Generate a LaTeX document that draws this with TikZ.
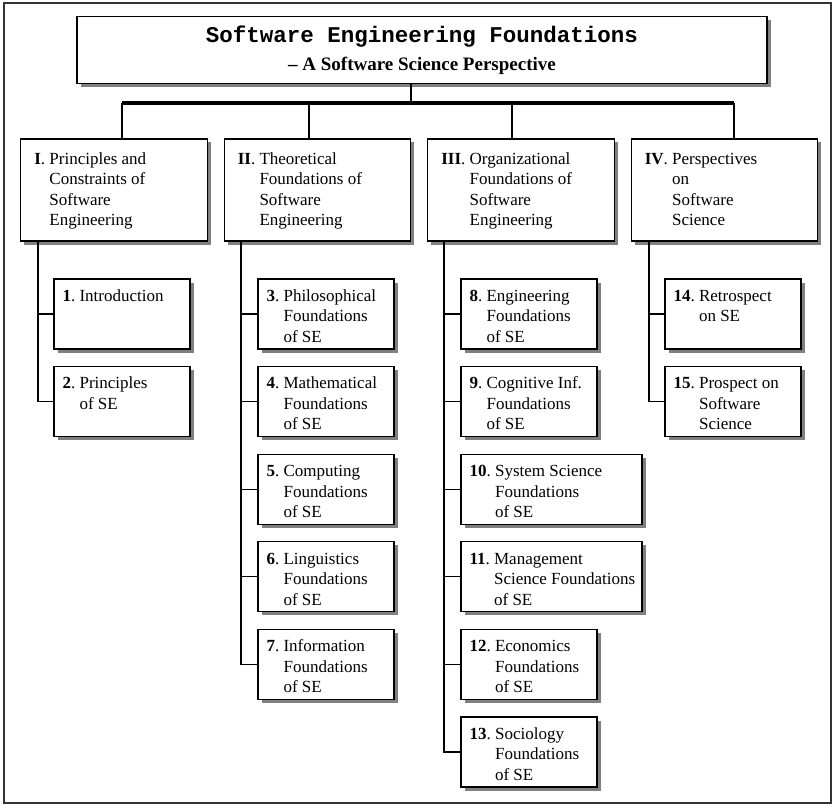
\documentclass[tikz,border=0pt]{standalone}
\usepackage{fontspec}
\setmainfont{Liberation Serif}
\newfontfamily\titlefont{Liberation Mono}
\usetikzlibrary{shadows}

% number in bold, then the lines of the title hanging after it
\newcommand{\entry}[2]{\textbf{#1}.\ \begin{tabular}[t]{@{}l@{}}#2\end{tabular}}

\tikzset{
  box/.style={draw, line width=1.3pt, fill=white, rectangle, inner sep=0pt,
    drop shadow={shadow xshift=3.5pt, shadow yshift=-3.5pt, fill=black!50, opacity=1}},
  partbox/.style={box, minimum width=186.5pt, minimum height=102pt},
  chapbox/.style={box, minimum width=136pt, minimum height=70pt},
  boxtext/.style={anchor=base west, inner sep=0pt, font=\fontsize{17}{20.5}\selectfont},
  link/.style={line width=1.1pt},
}

\begin{document}
\begin{tikzpicture}[x=1pt, y=-1pt]
  \useasboundingbox (0,0) rectangle (835,805);
  %cornice
  \draw[line width=2pt, black!80] (3.5,3.5) rectangle (831,803);

  %titolo
  \node[box, minimum width=690pt, minimum height=66.5pt, align=center, font=\fontsize{19}{28}\selectfont] (title) at (422,50)
    {{\titlefont\bfseries\fontsize{22.5}{26}\selectfont Software Engineering Foundations}\\ \textbf{-- A Software Science Perspective}};

  %barra
  \coordinate (busL) at (122,103);
  \coordinate (busR) at (734,103);
  \coordinate (busT) at (411,103);
  \coordinate (d2) at (309,103);
  \coordinate (d3) at (512,103);
  \draw[link] (busT |- title.south) -- (busT);
  \draw[line width=4pt] (busL) -- (busR);

  %parti
  \node[partbox] (p1) at (114,190) {};
  \node[partbox] (p2) at (317.5,190) {};
  \node[partbox] (p3) at (521,190) {};
  \node[partbox] (p4) at (724.5,190) {};
  \node[boxtext] (p1t) at ([shift={(14,26)}]p1.north west) {\entry{I}{Principles and\\Constraints of\\Software\\Engineering}};
  \node[boxtext] (p2t) at ([shift={(14,26)}]p2.north west) {\entry{II}{Theoretical\\Foundations of\\Software\\Engineering}};
  \node[boxtext] (p3t) at ([shift={(14,26)}]p3.north west) {\entry{III}{Organizational\\Foundations of\\Software\\Engineering}};
  \node[boxtext] (p4t) at ([shift={(14,26)}]p4.north west) {\entry{IV}{Perspectives\\on\\Software\\Science}};
  \draw[link] (busL) -- (busL |- p1.north);
  \draw[link] (d2) -- (d2 |- p2.north);
  \draw[link] (d3) -- (d3 |- p3.north);
  \draw[link] (busR) -- (busR |- p4.north);

  %capitoli parte I
  \coordinate (s1) at (38,0);
  \node[chapbox] (c1) at (122,314) {};
  \node[chapbox] (c2) at (122,401.6) {};
  \node[boxtext] (c1t) at ([shift={(9,23)}]c1.north west) {\entry{1}{Introduction}};
  \node[boxtext] (c2t) at ([shift={(9,23)}]c2.north west) {\entry{2}{Principles\\of SE}};
  \draw[link] (s1 |- p1.south) |- (c2.west);
  \draw[link] (s1 |- c1.west) -- (c1.west);

  %capitoli parte II
  \coordinate (s2) at (241,0);
  \node[chapbox] (c3) at (326,314) {};
  \node[chapbox] (c4) at (326,401.6) {};
  \node[chapbox] (c5) at (326,489.2) {};
  \node[chapbox] (c6) at (326,576.8) {};
  \node[chapbox] (c7) at (326,664.4) {};
  \node[boxtext] (c3t) at ([shift={(9,23)}]c3.north west) {\entry{3}{Philosophical\\Foundations\\of SE}};
  \node[boxtext] (c4t) at ([shift={(9,23)}]c4.north west) {\entry{4}{Mathematical\\Foundations\\of SE}};
  \node[boxtext] (c5t) at ([shift={(9,23)}]c5.north west) {\entry{5}{Computing\\Foundations\\of SE}};
  \node[boxtext] (c6t) at ([shift={(9,23)}]c6.north west) {\entry{6}{Linguistics\\Foundations\\of SE}};
  \node[boxtext] (c7t) at ([shift={(9,23)}]c7.north west) {\entry{7}{Information\\Foundations\\of SE}};
  \draw[link] (s2 |- p2.south) |- (c7.west);
  \draw[link] (s2 |- c3.west) -- (c3.west);
  \draw[link] (s2 |- c4.west) -- (c4.west);
  \draw[link] (s2 |- c5.west) -- (c5.west);
  \draw[link] (s2 |- c6.west) -- (c6.west);

  %capitoli parte III
  \coordinate (s3) at (444,0);
  \node[chapbox] (c8) at (529,314) {};
  \node[chapbox] (c9) at (529,401.6) {};
  \node[chapbox, minimum width=181pt] (c10) at (551.5,489.2) {};
  \node[chapbox, minimum width=181pt] (c11) at (551.5,576.8) {};
  \node[chapbox] (c12) at (529,664.4) {};
  \node[chapbox] (c13) at (529,752) {};
  \node[boxtext] (c8t) at ([shift={(9,23)}]c8.north west) {\entry{8}{Engineering\\Foundations\\of SE}};
  \node[boxtext] (c9t) at ([shift={(9,23)}]c9.north west) {\entry{9}{Cognitive Inf.\\Foundations\\of SE}};
  \node[boxtext] (c10t) at ([shift={(9,23)}]c10.north west) {\entry{10}{System Science\\Foundations\\of SE}};
  \node[boxtext] (c11t) at ([shift={(9,23)}]c11.north west) {\entry{11}{Management\\Science Foundations\\of SE}};
  \node[boxtext] (c12t) at ([shift={(9,23)}]c12.north west) {\entry{12}{Economics\\Foundations\\of SE}};
  \node[boxtext] (c13t) at ([shift={(9,23)}]c13.north west) {\entry{13}{Sociology\\Foundations\\of SE}};
  \draw[link] (s3 |- p3.south) |- (c13.west);
  \draw[link] (s3 |- c8.west) -- (c8.west);
  \draw[link] (s3 |- c9.west) -- (c9.west);
  \draw[link] (s3 |- c10.west) -- (c10.west);
  \draw[link] (s3 |- c11.west) -- (c11.west);
  \draw[link] (s3 |- c12.west) -- (c12.west);

  %capitoli parte IV
  \coordinate (s4) at (649,0);
  \node[chapbox] (c14) at (733,314) {};
  \node[chapbox] (c15) at (733,401.6) {};
  \node[boxtext] (c14t) at ([shift={(9,23)}]c14.north west) {\entry{14}{Retrospect\\on SE}};
  \node[boxtext] (c15t) at ([shift={(9,23)}]c15.north west) {\entry{15}{Prospect on\\Software\\Science}};
  \draw[link] (s4 |- p4.south) |- (c15.west);
  \draw[link] (s4 |- c14.west) -- (c14.west);
\end{tikzpicture}
\end{document}
